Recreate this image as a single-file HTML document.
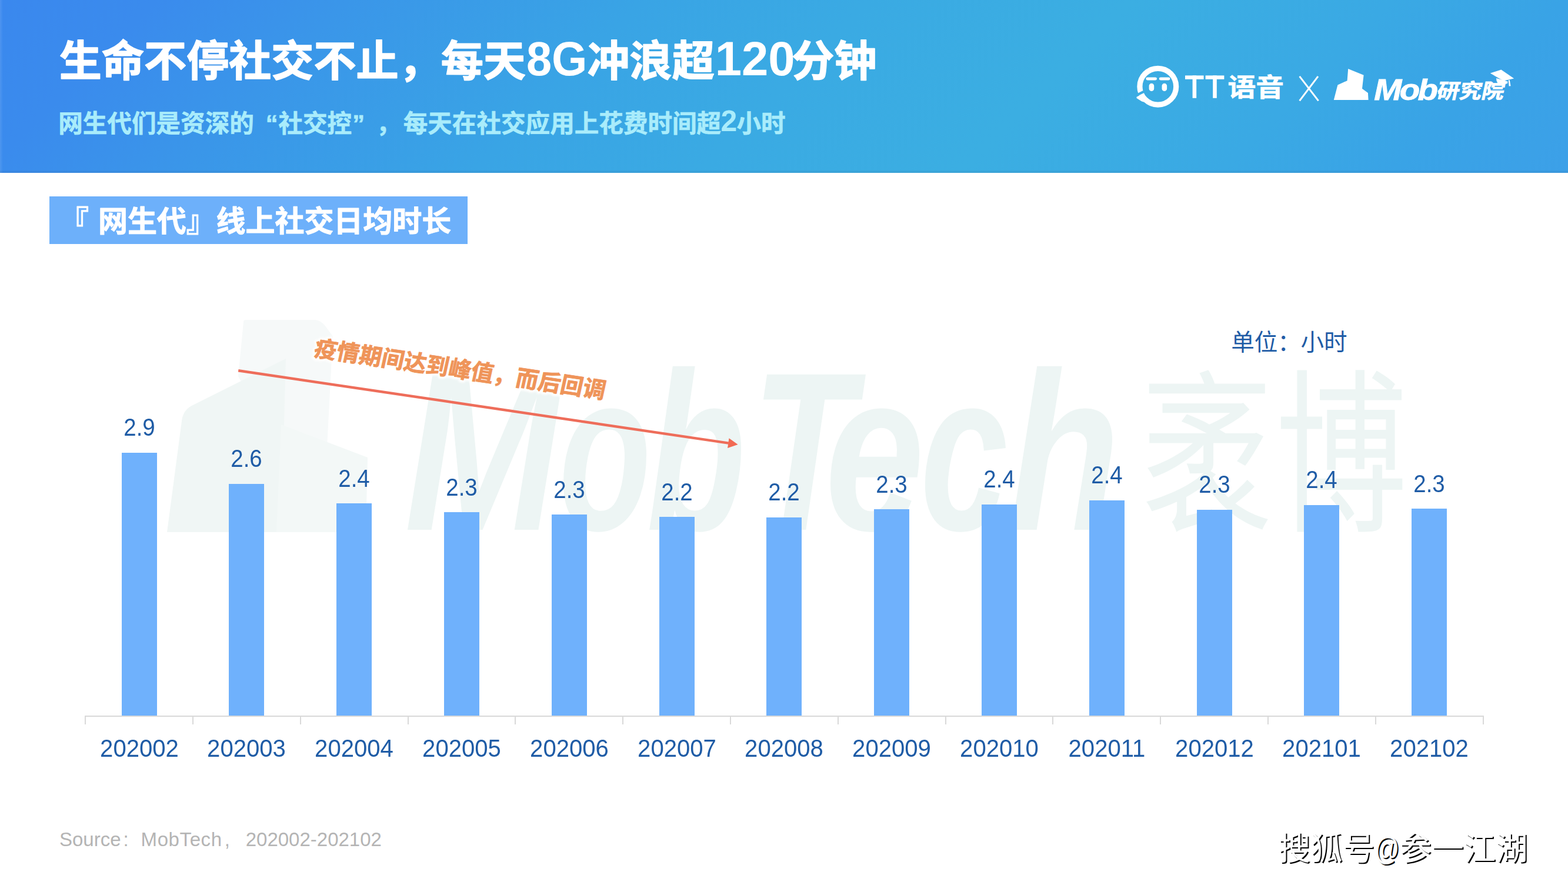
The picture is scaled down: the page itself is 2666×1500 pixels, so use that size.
<!DOCTYPE html>
<html lang="zh-CN">
<head>
<meta charset="utf-8">
<title>生命不停社交不止，每天8G冲浪超120分钟</title>
<style>
html,body{margin:0;padding:0;background:#fff;}
body{width:2666px;height:1500px;overflow:hidden;font-family:"Liberation Sans","Noto Sans CJK SC",sans-serif;}
#page{position:relative;width:2666px;height:1500px;overflow:hidden;background:#fff;}
#page>*{position:absolute;}
svg{position:absolute;left:0;top:0;overflow:visible;}
svg text{font-family:"Liberation Sans","Noto Sans CJK SC",sans-serif;}
.hdr{left:0;top:0;width:2666px;height:293.5px;
  background:
    linear-gradient(to bottom,rgba(0,0,0,0) 0,rgba(0,0,0,0) 289px,rgba(40,70,110,.07) 291px,rgba(40,70,110,.12) 100%),
    linear-gradient(to right,rgba(255,255,255,.10) 0,rgba(255,255,255,0) 5px),
    linear-gradient(135deg,#3a88ee 0%,#3a8bed 9%,#3a96e9 20%,#39a4e5 37%,#3aaae3 50%,#3baee2 65%,#3aa9e4 80%,#39a3e6 90%,#3ca0e8 100%);}
.tag{background:#6db0fa;}
.bar{background:#6fb1fc;width:60px;}
.val,.cat{color:#1f5ca6;text-align:center;white-space:nowrap;line-height:1;}
.val{font-size:42px;width:120px;transform:scaleX(.915);}
.cat{font-size:42px;width:182px;transform:scaleX(.955);}
.axis{background:#d9d9d9;height:2px;}
.tick{background:#d9d9d9;width:2px;height:14px;}
.src{left:101px;top:1408px;font-size:33px;line-height:40px;color:#b4b4b4;white-space:nowrap;}
.src i{display:inline-block;width:34px;font-style:normal;padding-left:4px;box-sizing:border-box;}
.src i+b{font-weight:400;letter-spacing:.6px;}
.src i.c{width:40px;}
</style>
</head>
<body>
<div id="page">

<div class="hdr"></div>
<svg width="2666" height="300" viewBox="0 0 2666 300" role="img" aria-label="生命不停社交不止，每天8G冲浪超120分钟 / 网生代们是资深的“社交控”，每天在社交应用上花费时间超2小时">
<title>生命不停社交不止，每天8G冲浪超120分钟</title>
<desc>网生代们是资深的“社交控”，每天在社交应用上花费时间超2小时</desc>
<text x="100.84" y="129" font-size="72.1" font-weight="700" fill="#fff" stroke="#fff" stroke-width="1.6" stroke-linejoin="round" textLength="793.1">生命不停社交不止，每天</text>
<text x="894.9" y="127.6" font-size="82" font-weight="700" fill="#fff" textLength="103.5" lengthAdjust="spacingAndGlyphs">8G</text>
<text x="998.44" y="129" font-size="72.1" font-weight="700" fill="#fff" stroke="#fff" stroke-width="1.6" stroke-linejoin="round" textLength="216.3">冲浪超</text>
<text x="1215.7" y="127.6" font-size="82" font-weight="700" fill="#fff" textLength="136.0" lengthAdjust="spacingAndGlyphs">120</text>
<text x="1346.24" y="129" font-size="72.1" font-weight="700" fill="#fff" stroke="#fff" stroke-width="1.6" stroke-linejoin="round" textLength="144.2">分钟</text>
<g font-size="41.58" font-weight="700" fill="#a9ecfb" stroke="#a9ecfb" stroke-width="0.67" stroke-linejoin="round">
<text x="99.2" y="224.5" textLength="332.6">网生代们是资深的</text>
<text x="472.6" y="224.5" text-anchor="end">“</text>
<text x="473.4" y="224.5" textLength="124.7">社交控</text>
<text x="599.2" y="224.5">”</text>
<text x="639.7" y="224.5">，</text>
<text x="685.7" y="224.5" textLength="540.5">每天在社交应用上花费时间超</text>
</g>
<text x="1225.4" y="223.3" font-size="50" font-weight="700" fill="#a9ecfb">2</text>
<text x="1252.42" y="224.5" font-size="41.58" font-weight="700" fill="#a9ecfb" stroke="#a9ecfb" stroke-width="0.67" stroke-linejoin="round" textLength="83.2">小时</text>
</svg>
<svg width="2666" height="300" viewBox="0 0 2666 300" role="img" aria-label="TT语音 X Mob研究院"><title>TT语音 X Mob研究院</title>
<defs><mask id="slit" maskUnits="userSpaceOnUse" x="1920" y="100" width="100" height="100"><rect x="1920" y="100" width="100" height="100" fill="#fff"/><path d="M1929.0 163.6 L1947.6 154.4" stroke="#000" stroke-width="4.4" fill="none"/></mask></defs>
<g fill="#fff" stroke="none">
<circle cx="1968.8" cy="147.2" r="30.9" fill="none" stroke="#fff" stroke-width="9.2" mask="url(#slit)"/>
<path d="M1932.6 166.9 Q1931.6 165.2 1933.6 164.2 L1944.6 158.8 L1948 174.6 L1941.4 172.6 Z"/>
<rect x="1948.4" y="131.6" width="18.6" height="4.8" rx="2.4"/><rect x="1953.6" y="141.8" width="8.6" height="13.2" rx="4.3"/>
<rect x="1970.8" y="131.6" width="18.6" height="4.8" rx="2.4"/><rect x="1975.5" y="141.8" width="8.6" height="13.2" rx="4.3"/>
<rect x="2015" y="128.4" width="31.6" height="6.4"/><rect x="2027.6" y="128.4" width="6.6" height="38.4"/>
<rect x="2049.6" y="128.4" width="31.8" height="6.4"/><rect x="2062.2" y="128.4" width="6.6" height="38.4"/>
<text transform="translate(2087.53 163.6) scale(1.1 1)" font-size="43.4" font-weight="700" stroke="#fff" stroke-width="0.6">语音</text>
<path fill="none" stroke="#fff" stroke-width="3" d="M2209.6 129.8 L2241.6 171.4 M2241 129.8 L2209.6 171.4"/>
<path d="M2267.8 170 L2274.4 144.4 L2290.6 137.2 L2292.2 116.9 L2318.6 127.7 L2316 150.8 L2325.9 158.1 L2326.6 170 Z"/>
<text transform="translate(2336.2 170) scale(1.13 1)" font-size="50" font-weight="700" font-style="italic" letter-spacing="-3.2" stroke="#fff" stroke-width=".9">Mob</text>
<text transform="translate(2441.4 166.9) skewX(-12) scale(1.1 1)" font-size="34.6" font-weight="700" stroke="#fff" stroke-width="0.8">研究院</text>
<path d="M2533.8 124.6 L2552.4 118.4 L2574.2 133.6 L2556.2 137.4 Z"/>
<path d="M2544 133 L2563.6 138.6 L2563 142 Q2553 145 2544.6 138 Z"/>
<path d="M2564.8 136.6 L2566.8 136 L2568.6 146.2 L2565.6 146.6 Z"/>
</g></svg>
<div class="tag" style="left:83.5px;top:334.0px;width:711.0px;height:80.5px"></div>
<svg width="2666" height="450" viewBox="0 0 2666 450" role="img" aria-label="『 网生代』线上社交日均时长"><title>『 网生代』线上社交日均时长</title>
<g font-size="50" font-weight="700" fill="#fff" stroke="#fff" stroke-width="1" stroke-linejoin="round">
<text x="101" y="393.6">『</text>
<text x="166.95" y="393.6" textLength="149.85">网生代</text>
<text x="316.8" y="393.6">』</text>
<text x="367.6" y="393.6" textLength="399.6">线上社交日均时长</text>
</g>
</svg>
<svg width="2666" height="1000" viewBox="0 0 2666 1000" role="img" aria-label="MobTech 袤博"><title>MobTech 袤博</title>
<g fill="#edf5f4">
<path fill="#f6f9f9" d="M414 548 Q414 544 418 544 L536 544 Q545 545 552 553 L566 572 L556 760 L470 760 L405 640 Z"/>
<path fill="#f0f6f5" d="M284 905 L309 716 Q311 698 326 690 L486 610 L478 905 Z"/>
<path fill="#f3f8f7" d="M478 722 L625 778 L622 905 L470 905 Z"/>
<text transform="translate(687.4 901) scale(0.8284 1)" font-size="384" font-weight="700" font-style="italic">M</text>
<text transform="translate(950.1 901) scale(0.6702 1)" font-size="384" font-weight="700" font-style="italic">o</text>
<text transform="translate(1099.3 901) scale(0.7191 1)" font-size="384" font-weight="700" font-style="italic">b</text>
<text transform="translate(1277.8 901) scale(0.7424 1)" font-size="384" font-weight="700" font-style="italic">T</text>
<text transform="translate(1402.7 901) scale(0.7903 1)" font-size="384" font-weight="700" font-style="italic">e</text>
<text transform="translate(1564.7 901) scale(0.6985 1)" font-size="384" font-weight="700" font-style="italic">c</text>
<text transform="translate(1714.7 901) scale(0.8071 1)" font-size="384" font-weight="700" font-style="italic">h</text>
<text transform="translate(1941.10 882.44) scale(0.7462 1)" font-size="298.28">袤</text>
<text transform="translate(2168.96 880.86) scale(0.7466 1)" font-size="299.25">博</text>
</g></svg>
<div class="bar" style="left:206.6px;top:770.0px;height:447.0px"></div>
<div class="val" style="left:176.6px;top:706.4px">2.9</div>
<div class="cat" style="left:145.6px;top:1252.0px">202002</div>
<div class="bar" style="left:389.4px;top:823.0px;height:394.0px"></div>
<div class="val" style="left:359.4px;top:759.4px">2.6</div>
<div class="cat" style="left:328.4px;top:1252.0px">202003</div>
<div class="bar" style="left:572.2px;top:856.2px;height:360.8px"></div>
<div class="val" style="left:542.2px;top:792.6px">2.4</div>
<div class="cat" style="left:511.2px;top:1252.0px">202004</div>
<div class="bar" style="left:755.0px;top:871.3px;height:345.7px"></div>
<div class="val" style="left:725.0px;top:807.7px">2.3</div>
<div class="cat" style="left:694.0px;top:1252.0px">202005</div>
<div class="bar" style="left:937.8px;top:875.2px;height:341.8px"></div>
<div class="val" style="left:907.8px;top:811.6px">2.3</div>
<div class="cat" style="left:876.8px;top:1252.0px">202006</div>
<div class="bar" style="left:1120.6px;top:879.2px;height:337.8px"></div>
<div class="val" style="left:1090.6px;top:815.6px">2.2</div>
<div class="cat" style="left:1059.6px;top:1252.0px">202007</div>
<div class="bar" style="left:1303.4px;top:879.6px;height:337.4px"></div>
<div class="val" style="left:1273.4px;top:816.0px">2.2</div>
<div class="cat" style="left:1242.4px;top:1252.0px">202008</div>
<div class="bar" style="left:1486.2px;top:866.4px;height:350.6px"></div>
<div class="val" style="left:1456.2px;top:802.8px">2.3</div>
<div class="cat" style="left:1425.2px;top:1252.0px">202009</div>
<div class="bar" style="left:1669.0px;top:857.6px;height:359.4px"></div>
<div class="val" style="left:1639.0px;top:794.0px">2.4</div>
<div class="cat" style="left:1608.0px;top:1252.0px">202010</div>
<div class="bar" style="left:1851.8px;top:851.0px;height:366.0px"></div>
<div class="val" style="left:1821.8px;top:787.4px">2.4</div>
<div class="cat" style="left:1790.8px;top:1252.0px">202011</div>
<div class="bar" style="left:2034.6px;top:866.8px;height:350.2px"></div>
<div class="val" style="left:2004.6px;top:803.2px">2.3</div>
<div class="cat" style="left:1973.6px;top:1252.0px">202012</div>
<div class="bar" style="left:2217.4px;top:858.9px;height:358.1px"></div>
<div class="val" style="left:2187.4px;top:795.3px">2.4</div>
<div class="cat" style="left:2156.4px;top:1252.0px">202101</div>
<div class="bar" style="left:2400.2px;top:865.1px;height:351.9px"></div>
<div class="val" style="left:2370.2px;top:801.5px">2.3</div>
<div class="cat" style="left:2339.2px;top:1252.0px">202102</div>
<div class="axis" style="left:144.2px;top:1217.0px;width:2378.4px"></div>
<div class="tick" style="left:144.2px;top:1218.0px"></div>
<div class="tick" style="left:327.0px;top:1218.0px"></div>
<div class="tick" style="left:509.8px;top:1218.0px"></div>
<div class="tick" style="left:692.6px;top:1218.0px"></div>
<div class="tick" style="left:875.4px;top:1218.0px"></div>
<div class="tick" style="left:1058.2px;top:1218.0px"></div>
<div class="tick" style="left:1241.0px;top:1218.0px"></div>
<div class="tick" style="left:1423.8px;top:1218.0px"></div>
<div class="tick" style="left:1606.6px;top:1218.0px"></div>
<div class="tick" style="left:1789.4px;top:1218.0px"></div>
<div class="tick" style="left:1972.2px;top:1218.0px"></div>
<div class="tick" style="left:2155.0px;top:1218.0px"></div>
<div class="tick" style="left:2337.8px;top:1218.0px"></div>
<div class="tick" style="left:2520.6px;top:1218.0px"></div>
<svg width="2666" height="700" viewBox="0 0 2666 700" role="img" aria-label="单位：小时"><title>单位：小时</title>
<text x="2093.36" y="596" font-size="39.6" fill="#1f5ca6" textLength="197.2">单位：小时</text>
</svg>
<svg width="2666" height="900" viewBox="0 0 2666 900" role="img" aria-label="疫情期间达到峰值，而后回调"><title>疫情期间达到峰值，而后回调</title>
<defs><filter id="glow" x="-5%" y="-30%" width="110%" height="160%"><feGaussianBlur stdDeviation="1.6"/></filter></defs>
<g transform="translate(405.2 630.2) rotate(8.425)">
<rect x="0" y="-2.2" width="842.7" height="4.4" fill="#ee6d5a"/>
<path fill="#f26a53" d="M858.7 0 L842.2 -8.4 L842.2 8.4 Z"/>
</g>
<g transform="translate(532.2 604.9) rotate(8.425) skewX(-4)">
<text x="0" y="0" font-size="38.45" font-weight="700" fill="#fff" stroke="#fff" stroke-width="7.3" stroke-linejoin="round" opacity=".95" filter="url(#glow)" textLength="499.85">疫情期间达到峰值，而后回调</text>
<text x="0" y="0" font-size="38.45" font-weight="700" fill="#ef9459" stroke="#ef9459" stroke-width="0.85" stroke-linejoin="round" textLength="499.85">疫情期间达到峰值，而后回调</text>
</g></svg>
<div class="src">Source<i>:</i><b>MobTech</b><i class="c">,</i>202002-202102</div>
<svg width="2666" height="1500" viewBox="0 0 2666 1500" role="img" aria-label="搜狐号@参一江湖"><title>搜狐号@参一江湖</title>
<g font-size="54.6" fill="#000">
<text x="2175.47" y="1463.6" textLength="163.8">搜狐号</text>
<text x="2339.27" y="1463.6" textLength="42" lengthAdjust="spacingAndGlyphs">@</text>
<text x="2381.31" y="1463.6" textLength="218.4">参一江湖</text>
</g>
<g font-size="54.6" fill="#fff">
<text x="2173.47" y="1461.6" textLength="163.8">搜狐号</text>
<text x="2337.27" y="1461.6" textLength="42" lengthAdjust="spacingAndGlyphs">@</text>
<text x="2379.31" y="1461.6" textLength="218.4">参一江湖</text>
</g>
</svg>
</div>
</body>
</html>
